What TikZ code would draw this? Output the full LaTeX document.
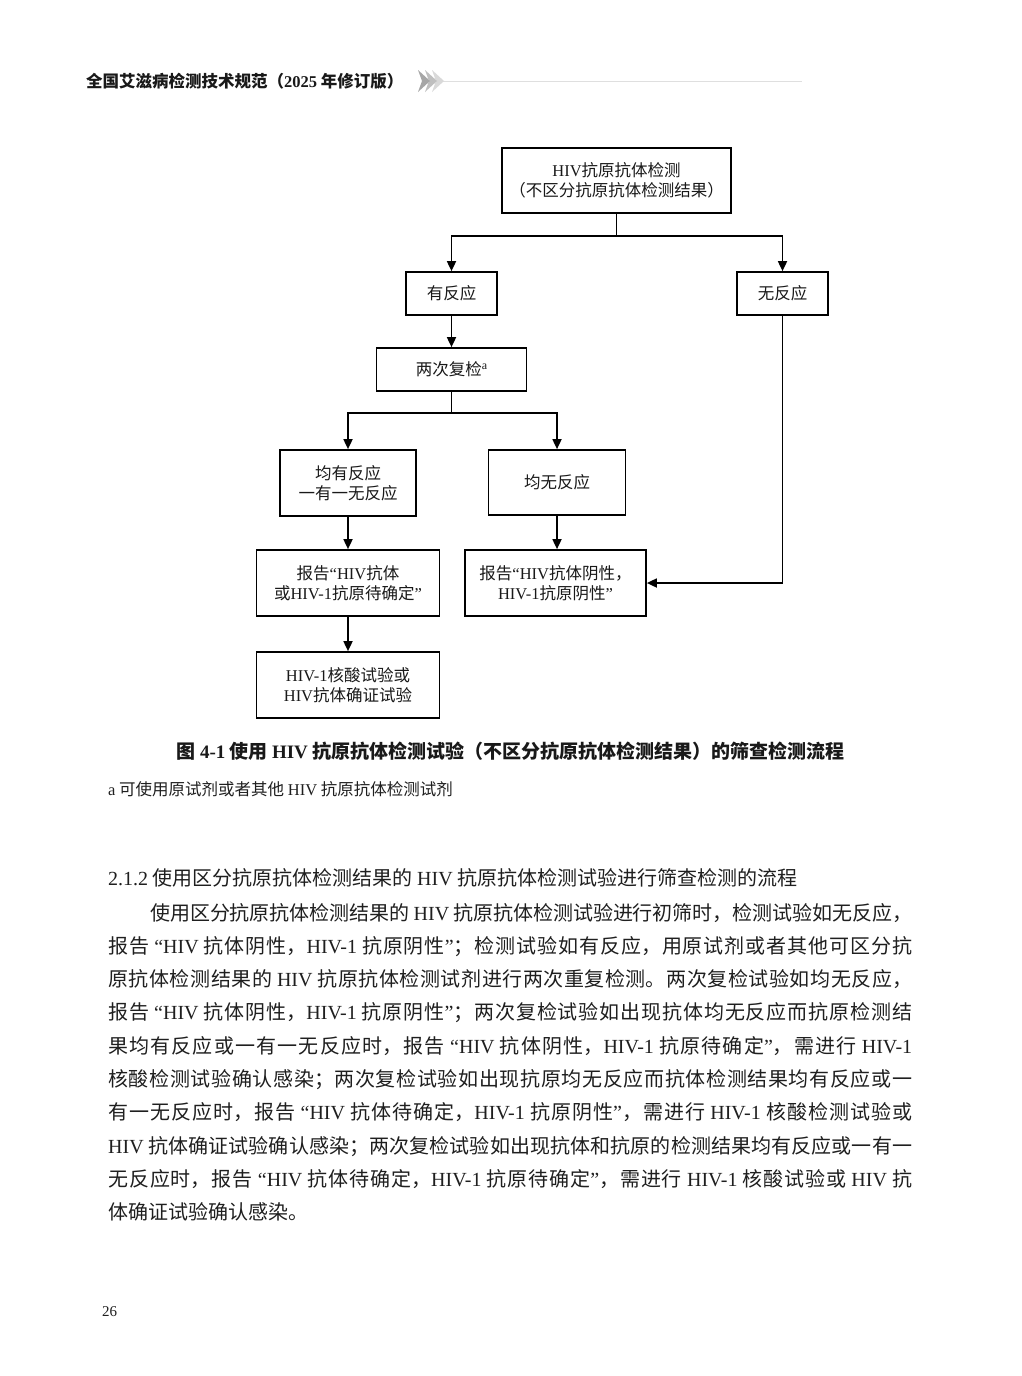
\documentclass[tikz,border=0pt]{standalone}
\usepackage{fontspec}
\setmainfont{Noto Sans CJK SC}
\newfontfamily\latf{Liberation Serif}
\usetikzlibrary{arrows.meta}
\newcommand\lt[1]{{\latf #1}}
\newcommand\jl[1]{\parfillskip=0pt\relax\XeTeXlinebreaklocale "zh"\XeTeXlinebreakskip=0pt plus 3pt minus 0.6pt\relax #1\par}
\tikzset{
  box/.style={draw=black, line width=1.7pt, inner sep=0pt, align=center,
    font=\fontsize{16.5}{20}\selectfont, text=black!90},
  arr/.style={line width=1.7pt, -{Triangle[length=10pt,width=9pt]}},
  ln/.style={line width=1.7pt},
  bodyfont/.style={font=\fontsize{20}{24}\selectfont, text=black!88},
  bodyline/.style={bodyfont, anchor=base west, inner sep=0pt, text width=804pt, align=justify},
}
\begin{document}
\begin{tikzpicture}[x=1pt,y=-1pt]
\useasboundingbox (0,0) rectangle (1022,1376);
\fill[white] (0,0) rectangle (1022,1376);

% header
\node[anchor=west, inner sep=0pt, font=\bfseries\fontsize{16.5}{20}\selectfont, text=black!90] (hdr) at (86,81)
  {全国艾滋病检测技术规范（\lt{2025} 年修订版）};
\draw[gray!25, line width=1pt] (440,81) -- (802,81);
\fill[gray!30] (432,70) -- (444,81) -- (432,92) -- (436,81) -- cycle;
\fill[gray!50] (425,70) -- (437,81) -- (425,92) -- (429,81) -- cycle;
\fill[gray!70] (418,70) -- (430,81) -- (418,92) -- (422,81) -- cycle;

% flowchart
\node[box, minimum width=229pt, minimum height=65pt] (top) at (616.5,180.5)
  {\lt{HIV}抗原抗体检测\\（不区分抗原抗体检测结果）};
\node[box, minimum width=91pt, minimum height=43pt] (yes) at (451.5,293.5) {有反应};
\node[box, minimum width=91pt, minimum height=43pt] (no) at (782.5,293.5) {无反应};
\node[box, minimum width=150pt, minimum height=43pt] (rep) at (451.5,369.5)
  {两次复检\raisebox{6pt}{\lt{\fontsize{12}{12}\selectfont a}}};
\node[box, minimum width=136pt, minimum height=66pt] (both) at (348,483) {均有反应\\一有一无反应};
\node[box, minimum width=137pt, minimum height=65pt] (neg) at (557,482.5) {均无反应};
\node[box, minimum width=183pt, minimum height=66pt] (repL) at (348,583)
  {报告\lt{“HIV}抗体\\或\lt{HIV-1}抗原待确定\lt{”}};
\node[box, minimum width=181pt, minimum height=66pt] (repR) at (555.5,583)
  {报告\lt{“HIV}抗体阴性，\\\lt{HIV-1}抗原阴性\lt{”}};
\node[box, minimum width=183pt, minimum height=66pt] (conf) at (348,685)
  {\lt{HIV-1}核酸试验或\\\lt{HIV}抗体确证试验};

\coordinate (j1) at (616.5,236);
\coordinate (j2) at (451.5,413);
\draw[ln] (top.south) -- (j1);
\draw[arr] (j1) -| (yes.north);
\draw[arr] (j1) -| (no.north);
\draw[arr] (yes.south) -- (rep.north);
\draw[ln] (rep.south) -- (j2);
\draw[arr] (j2) -| (both.north);
\draw[arr] (j2) -| (neg.north);
\draw[arr] (both.south) -- (repL.north);
\draw[arr] (neg.south) -- (neg.south |- repR.north);
\draw[arr] (repL.south) -- (conf.north);
\draw[arr] (no.south) |- (repR.east);

% caption and footnote
\node[inner sep=0pt, font=\bfseries\fontsize{19}{22}\selectfont, text=black!90] (cap) at (510.5,751)
  {图 \lt{4-1} 使用 \lt{HIV} 抗原抗体检测试验（不区分抗原抗体检测结果）的筛查检测流程};
\node[anchor=west, inner sep=0pt, font=\fontsize{16.5}{20}\selectfont, text=black!88] (fn) at (108,789)
  {\lt{a} 可使用原试剂或者其他 \lt{HIV} 抗原抗体检测试剂};

% section heading
\node[anchor=west, inner sep=0pt, bodyfont] (sec) at (108,878)
  {\lt{2.1.2} 使用区分抗原抗体检测结果的 \lt{HIV} 抗原抗体检测试验进行筛查检测的流程};

% body paragraph
\node[bodyline, text width=762pt] (p1) at (150,920)
  {\jl{使用区分抗原抗体检测结果的 \lt{HIV} 抗原抗体检测试验进行初筛时，检测试验如无反应，}};
\node[bodyline] (p2) at (108,953.3)
  {\jl{报告 \lt{“HIV} 抗体阴性，\lt{HIV-1} 抗原阴性\lt{”}；检测试验如有反应，用原试剂或者其他可区分抗}};
\node[bodyline] (p3) at (108,986.6)
  {\jl{原抗体检测结果的 \lt{HIV} 抗原抗体检测试剂进行两次重复检测。两次复检试验如均无反应，}};
\node[bodyline] (p4) at (108,1019.9)
  {\jl{报告 \lt{“HIV} 抗体阴性，\lt{HIV-1} 抗原阴性\lt{”}；两次复检试验如出现抗体均无反应而抗原检测结}};
\node[bodyline] (p5) at (108,1053.2)
  {\jl{果均有反应或一有一无反应时，报告 \lt{“HIV} 抗体阴性，\lt{HIV-1} 抗原待确定\lt{”}，需进行 \lt{HIV-1}}};
\node[bodyline] (p6) at (108,1086.5)
  {\jl{核酸检测试验确认感染；两次复检试验如出现抗原均无反应而抗体检测结果均有反应或一}};
\node[bodyline] (p7) at (108,1119.8)
  {\jl{有一无反应时，报告 \lt{“HIV} 抗体待确定，\lt{HIV-1} 抗原阴性\lt{”}，需进行 \lt{HIV-1} 核酸检测试验或}};
\node[bodyline] (p8) at (108,1153.1)
  {\jl{\lt{HIV} 抗体确证试验确认感染；两次复检试验如出现抗体和抗原的检测结果均有反应或一有一}};
\node[bodyline] (p9) at (108,1186.4)
  {\jl{无反应时，报告 \lt{“HIV} 抗体待确定，\lt{HIV-1} 抗原待确定\lt{”}，需进行 \lt{HIV-1} 核酸试验或 \lt{HIV} 抗}};
\node[anchor=base west, inner sep=0pt, bodyfont] (p10) at (108,1219.7)
  {体确证试验确认感染。};

% page number
\node[anchor=west, inner sep=0pt, font=\fontsize{15}{18}\selectfont, text=black!88] (pg) at (102,1312) {\lt{26}};
\end{tikzpicture}
\end{document}
